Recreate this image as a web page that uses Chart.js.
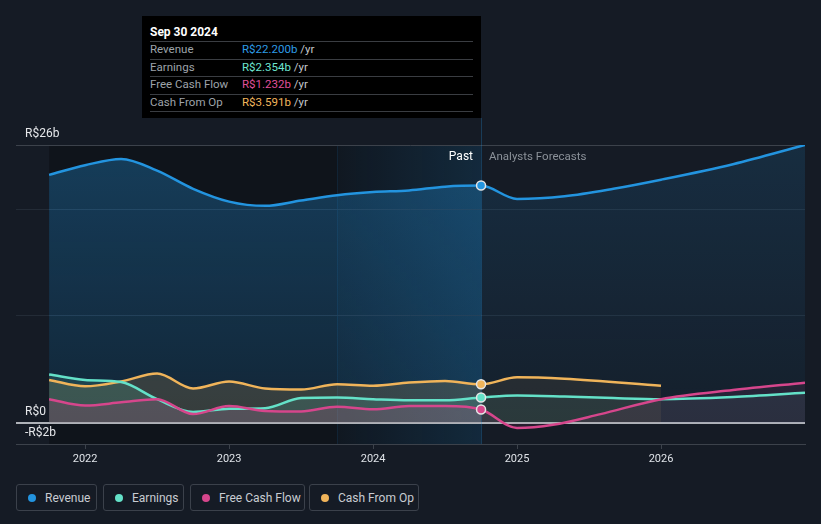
<!DOCTYPE html>
<html>
<head>
<meta charset="utf-8">
<script src="https://cdn.jsdelivr.net/npm/chart.js@4.4.1/dist/chart.umd.min.js"></script>
<style>
html,body{margin:0;padding:0;background:#151b25;width:821px;height:524px;overflow:hidden;font-family:Roboto,"Noto Sans",sans-serif;}
#wrap{position:relative;width:821px;height:524px;}
#c{position:absolute;left:0;top:0;}
#tip{position:absolute;left:142px;top:16px;width:339px;height:102px;background:#000;}
#tip .hd{position:absolute;left:8px;top:9px;height:14px;line-height:14px;font-size:12px;font-weight:bold;color:#fff;}
#tip .row{position:absolute;left:8px;width:323px;height:16.5px;line-height:15px;border-top:1px solid #3a3d42;font-size:11.5px;white-space:nowrap;}
#tip .row.last{border-bottom:1px solid #3a3d42;}
#tip .lb{position:absolute;left:0;color:#9ea3aa;}
#tip .vl{position:absolute;left:92px;}
#tip .yr{color:#c4c7cc;}
.lbl{position:absolute;top:149px;height:14px;line-height:14px;font-size:12px;white-space:nowrap;}
.lg{position:absolute;top:484px;height:27px;border:1px solid #3b414b;border-radius:3px;box-sizing:border-box;display:flex;align-items:center;padding-left:11px;font-size:12px;color:#c8ccd2;white-space:nowrap;}
.lg .dot{width:8px;height:8px;border-radius:50%;margin-right:9px;flex:none;}
</style>
</head>
<body>
<div id="wrap">
<canvas id="c" width="821" height="470"></canvas>
<div id="tip"></div>
<div class="lbl" style="right:348px;color:#ffffff;">Past</div>
<div class="lbl" style="left:489px;color:#8b9199;font-size:11.5px;">Analysts Forecasts</div>
<div id="legend"></div>
</div>
<script>
// ---------- DATA ----------
const nowX = 2024.75;          // Sep 30 2024
const pastStartX = 2021.75;
const bandStartX = 2023.75;
const tooltipDate = 'Sep 30 2024';

const seriesNames = ['Revenue', 'Earnings', 'Free Cash Flow', 'Cash From Op'];

const pastDates = [2021.75, 2022.0, 2022.25, 2022.5, 2022.75, 2023.0, 2023.25, 2023.5, 2023.75, 2024.0, 2024.25, 2024.5, 2024.75];
const revenuePast  = [23.2, 24.1, 24.7, 23.6, 21.9, 20.7, 20.3, 20.8, 21.3, 21.6, 21.75, 22.1, 22.2];
const earningsPast = [4.5, 4.0, 3.8, 2.2, 1.0, 1.3, 1.35, 2.3, 2.35, 2.2, 2.1, 2.1, 2.354];
const fcfPast      = [2.2, 1.6, 1.9, 2.2, 0.8, 1.55, 1.1, 1.05, 1.5, 1.25, 1.55, 1.55, 1.232];
const cfoPast      = [4.0, 3.4, 3.85, 4.6, 3.2, 3.85, 3.2, 3.1, 3.6, 3.45, 3.75, 3.9, 3.591];

const revenueFcDates  = [2025.0, 2025.33, 2025.67, 2026.0, 2026.5, 2027.0];
const revenueFc       = [20.95, 21.2, 21.9, 22.75, 24.2, 26.0];
const earningsFcDates = [2025.0, 2025.33, 2025.67, 2026.0, 2026.5, 2027.0];
const earningsFc      = [2.55, 2.45, 2.3, 2.2, 2.4, 2.8];
const fcfFcDates      = [2025.0, 2025.25, 2025.58, 2026.0, 2026.5, 2027.0];
const fcfFc           = [-0.5, -0.2, 0.8, 2.2, 3.05, 3.74];
const cfoFcDates      = [2025.0, 2025.33, 2026.0];
const cfoFc           = [4.24, 4.1, 3.45];

const yTickValues = [-2, 0, 10, 20, 26];
const yTickLabels = ['-R$2b', 'R$0', '', '', 'R$26b'];
const xTickYears  = [2022, 2023, 2024, 2025, 2026];

// ---------- STYLE ----------
const colors = {
  revenue: '#2394df', earnings: '#64e1c8', fcf: '#d6468c', cfo: '#f0b45a'
};
const textColors = ['#2d9be6', '#6ee6d0', '#e0509a', '#f2b65c'];

function pts(d1, v1, d2, v2) {
  const a = d1.map((d, i) => ({x: d, y: v1[i]}));
  return a.concat(d2.map((d, i) => ({x: d, y: v2[i]})));
}
function isFc(c) { return c.p1.parsed.x > nowX + 1e-6; }

const gradCache = {};
function revGrad(chart, past) {
  const a = chart.chartArea;
  const key = (past ? 'p' : 'f') + a.top + '_' + a.bottom;
  if (!gradCache[key]) {
    const g = chart.ctx.createLinearGradient(0, a.top, 0, a.bottom);
    if (past) { g.addColorStop(0, 'rgba(35,148,223,0.32)'); g.addColorStop(1, 'rgba(35,148,223,0.13)'); }
    else { g.addColorStop(0, 'rgba(35,148,223,0.15)'); g.addColorStop(1, 'rgba(35,148,223,0.03)'); }
    gradCache[key] = g;
  }
  return gradCache[key];
}
function rgba(hex, a) {
  const n = parseInt(hex.slice(1), 16);
  return 'rgba(' + (n >> 16) + ',' + ((n >> 8) & 255) + ',' + (n & 255) + ',' + a + ')';
}

function pointR(c) { return (c.raw && Math.abs(c.raw.x - nowX) < 1e-6) ? 4.5 : 0; }

function mkDataset(label, data, col, pastA, fcA, order) {
  return {
    label, data, order,
    borderColor: col, borderWidth: 2.5,
    backgroundColor: rgba(col, pastA),
    fill: 'origin',
    cubicInterpolationMode: 'monotone',
    pointRadius: pointR, pointHoverRadius: 0,
    pointBackgroundColor: col, pointBorderColor: '#e6e6e6', pointBorderWidth: 1.5,
    segment: { backgroundColor: c => isFc(c) ? rgba(col, fcA) : rgba(col, pastA) }
  };
}

const revenueDs = {
  label: 'Revenue', order: 4,
  data: pts(pastDates, revenuePast, revenueFcDates, revenueFc),
  borderColor: colors.revenue, borderWidth: 2.5,
  backgroundColor: 'rgba(35,148,223,0.2)',
  fill: 'origin', cubicInterpolationMode: 'monotone',
  pointRadius: pointR, pointHoverRadius: 0,
  pointBackgroundColor: colors.revenue, pointBorderColor: '#e6e6e6', pointBorderWidth: 1.5,
  segment: { backgroundColor: c => revGrad(c.chart, !isFc(c)) }
};

const datasets = [
  revenueDs,
  mkDataset('Earnings', pts(pastDates, earningsPast, earningsFcDates, earningsFc), colors.earnings, 0.14, 0.08, 2),
  mkDataset('Free Cash Flow', pts(pastDates, fcfPast, fcfFcDates, fcfFc), colors.fcf, 0.16, 0.09, 1),
  mkDataset('Cash From Op', pts(pastDates, cfoPast, cfoFcDates, cfoFc), colors.cfo, 0.16, 0.08, 3)
];

const bgPlugin = {
  id: 'bg',
  beforeDraw(chart) {
    const {ctx, chartArea: a, scales: {x}} = chart;
    const xs = x.getPixelForValue(pastStartX), xn = x.getPixelForValue(nowX), xb = x.getPixelForValue(bandStartX);
    ctx.save();
    ctx.fillStyle = 'rgba(0,0,0,0.25)';
    ctx.fillRect(xs, a.top, xn - xs, a.bottom - a.top);
    const g = ctx.createLinearGradient(xb, 0, xn, 0);
    g.addColorStop(0, 'rgba(35,148,223,0.03)');
    g.addColorStop(1, 'rgba(35,148,223,0.17)');
    ctx.fillStyle = g;
    ctx.fillRect(xb, a.top, xn - xb, a.bottom - a.top);
    ctx.fillStyle = 'rgba(35,148,223,0.10)';
    ctx.fillRect(Math.round(xb), a.top, 1, a.bottom - a.top);
    ctx.restore();
  },
  beforeDatasetsDraw(chart) {
    const {ctx, chartArea: a, scales: {x}} = chart;
    const xn = Math.round(x.getPixelForValue(nowX)) + 0.5;
    ctx.save();
    ctx.strokeStyle = 'rgba(35,148,223,0.28)';
    ctx.lineWidth = 1;
    ctx.beginPath(); ctx.moveTo(xn, 118); ctx.lineTo(xn, a.bottom); ctx.stroke();
    ctx.restore();
  }
};

Chart.defaults.font.family = 'Roboto, "Noto Sans", sans-serif';

new Chart(document.getElementById('c'), {
  type: 'line',
  data: { datasets },
  plugins: [bgPlugin],
  options: {
    responsive: false, animation: false, devicePixelRatio: 1, events: [],
    layout: { padding: { top: 145, left: 16, right: 16, bottom: 0 } },
    plugins: { legend: { display: false }, tooltip: { enabled: false }, filler: { drawTime: 'beforeDatasetsDraw' } },
    scales: {
      x: {
        type: 'linear', min: 2021.52, max: 2027.0,
        afterBuildTicks: s => { s.ticks = xTickYears.map(v => ({value: v})); },
        afterFit: s => { s.height = 26; },
        ticks: { callback: v => String(v), color: '#dfe3e8', font: { size: 11 }, padding: 4, maxRotation: 0, autoSkip: false },
        grid: { drawOnChartArea: false, drawTicks: true, tickLength: 5, color: '#3c424b' },
        border: { color: '#3c424b', width: 1 }
      },
      y: {
        type: 'linear', min: -2, max: 26,
        afterBuildTicks: s => { s.ticks = yTickValues.map(v => ({value: v})); },
        afterFit: s => { s.width = 0; },
        ticks: {
          mirror: true, padding: 9, labelOffset: -11, color: '#e6e8eb', font: { size: 12 },
          callback: (v) => { const i = yTickValues.indexOf(v); return i >= 0 ? yTickLabels[i] : ''; }
        },
        grid: {
          drawTicks: false,
          color: c => { const v = c.tick && c.tick.value; if (v === 0) return '#aeb2b8'; if (v === 26 || v === -2) return '#3c424b'; return '#232b36'; },
          lineWidth: c => (c.tick && c.tick.value === 0) ? 2 : 1
        },
        border: { display: false }
      }
    }
  }
});

// ---------- tooltip box (HTML text) ----------
const lastVals = [revenuePast, earningsPast, fcfPast, cfoPast].map(a => a[a.length - 1]);
const tip = document.getElementById('tip');
let html = '<div class="hd">' + tooltipDate + '</div>';
const rowTops = [25, 42.5, 60, 77.5];
seriesNames.forEach((n, i) => {
  html += '<div class="row' + (i === 3 ? ' last' : '') + '" style="top:' + rowTops[i] + 'px"><span class="lb">' + n +
    '</span><span class="vl"><span style="color:' + textColors[i] + '">R$' + lastVals[i].toFixed(3) + 'b</span><span class="yr"> /yr</span></span></div>';
});
tip.innerHTML = html;

// ---------- legend ----------
const legendBoxes = [[16, 81], [103, 81], [190, 115], [309, 110]];
const legendColors = [colors.revenue, colors.earnings, colors.fcf, colors.cfo];
document.getElementById('legend').innerHTML = seriesNames.map((n, i) =>
  '<div class="lg" style="left:' + legendBoxes[i][0] + 'px;width:' + legendBoxes[i][1] + 'px"><span class="dot" style="background:' + legendColors[i] + '"></span>' + n + '</div>'
).join('');
</script>
</body>
</html>
